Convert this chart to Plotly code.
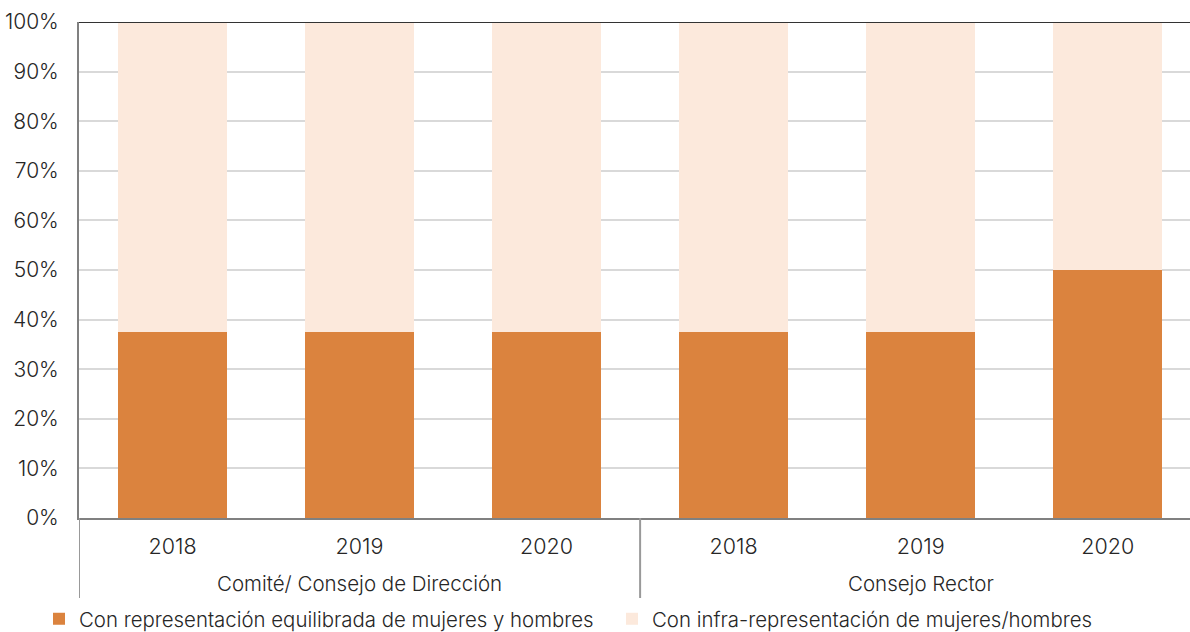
import plotly.graph_objects as go

groups = ["Comité/ Consejo de Dirección"] * 3 + ["Consejo Rector"] * 3
years = ["2018", "2019", "2020", "2018", "2019", "2020"]
equilibrada = [0.375, 0.375, 0.375, 0.375, 0.375, 0.50]
infra = [0.625, 0.625, 0.625, 0.625, 0.625, 0.50]

series_names = [
    "Con representación equilibrada de mujeres y hombres",
    "Con infra-representación de mujeres/hombres",
]
colors = ["#DB833E", "#FCE9DC"]

FONT = "Inter, Roboto, sans-serif"
TEXT = "#262626"
WEIGHT = 300
PLOT_H = 632 - 22 - 114  # plot area height in px

pos = list(range(len(years)))

fig = go.Figure()
for name, vals, col in zip(series_names, [equilibrada, infra], colors):
    fig.add_trace(go.Bar(
        x=pos, y=vals, name=name,
        marker=dict(color=col, line=dict(width=0)),
        width=0.58,
    ))

fig.update_layout(
    barmode="stack",
    width=1190, height=632,
    margin=dict(l=79, r=0, t=22, b=114, autoexpand=False),
    paper_bgcolor="white", plot_bgcolor="white",
    font=dict(family=FONT, size=20, color=TEXT, weight=WEIGHT),
    legend=dict(
        orientation="h", x=-0.036, xanchor="left",
        y=-(619 - 518) / PLOT_H, yanchor="middle",
        font=dict(size=20.4, color=TEXT, weight=WEIGHT),
        entrywidth=528, entrywidthmode="pixels",
        itemwidth=30, traceorder="normal",
    ),
    xaxis=dict(
        range=[-0.5, 5.44], tickvals=pos, ticktext=years,
        showline=True, linecolor="#808080", linewidth=2,
        showgrid=False, ticks="", zeroline=False,
        ticklabelstandoff=8,
        tickfont=dict(size=21.5, color=TEXT, weight=WEIGHT),
    ),
    yaxis=dict(
        range=[0, 1], dtick=0.1, tickformat=".0%",
        showgrid=True, gridcolor="#D9D9D9", gridwidth=2,
        showline=True, linecolor="#808080", linewidth=2,
        ticks="", ticklabelstandoff=14,
        tickfont=dict(size=21, color=TEXT, weight=WEIGHT),
        zeroline=False,
    ),
    showlegend=True,
)

# dark rule along the 100% level
fig.add_shape(type="line", xref="paper", yref="y", x0=0, x1=1, y0=1, y1=1,
              line=dict(color="#333333", width=2), layer="above")

# group labels and the dividers between groups
div_len = 80 / PLOT_H
seen = []
for g in groups:
    if g not in seen:
        seen.append(g)
for g in seen:
    idx = [i for i, gg in enumerate(groups) if gg == g]
    fig.add_annotation(x=sum(idx) / len(idx), xref="x", y=0, yref="paper",
                       text=g, showarrow=False, yanchor="middle", yshift=-65,
                       font=dict(size=20.5, color=TEXT, family=FONT, weight=WEIGHT))
    fig.add_shape(type="line", xref="x", yref="paper",
                  x0=idx[0] - 0.5, x1=idx[0] - 0.5, y0=0, y1=-div_len,
                  line=dict(color="#999999", width=2))

fig.write_html("out.html")
